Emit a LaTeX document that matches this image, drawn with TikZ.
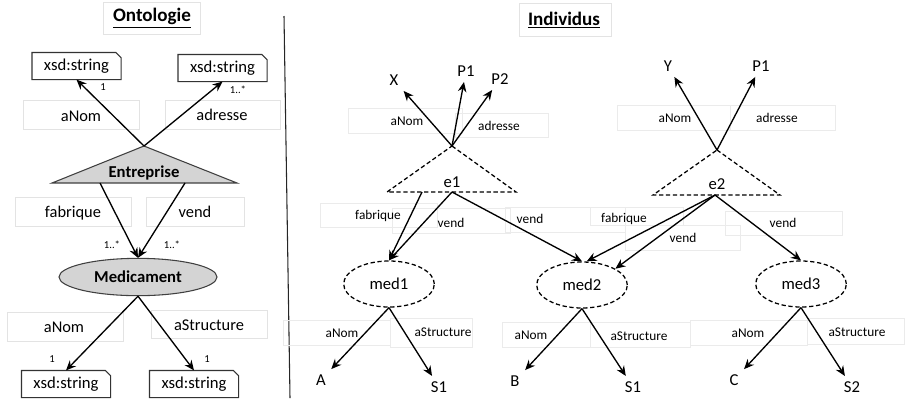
\documentclass[tikz,border=0pt]{standalone}
\usepackage{fontspec}
\setmainfont{Carlito}
\usetikzlibrary{arrows.meta,shapes.geometric}
\newcommand\xsdshape[1]{\draw[xsdline] (#1.south west) -- (#1.north west) -- ([xshift=-4pt]#1.north east) -- ([yshift=-4pt]#1.north east) -- (#1.south east) -- cycle;}
\begin{document}
\begin{tikzpicture}[x=0.75pt,y=-0.75pt,
 arr/.style={line width=1pt,-{Stealth[length=7.5pt,width=6.5pt,inset=2.5pt]}},
 lblbox/.style={draw=black!11,line width=0.6pt},
 rbox/.style={draw=black!8,line width=0.6pt},
 lbl/.style={font=\fontsize{12.3}{14}\selectfont, inner sep=1pt},
 slbl/.style={font=\fontsize{10}{12}\selectfont, inner sep=1pt},
 mult/.style={font=\fontsize{8}{9}\selectfont, inner sep=1pt},
 titletext/.style={font=\bfseries\fontsize{14.3}{16}\selectfont},
 xsd/.style={font=\fontsize{12.5}{14}\selectfont, minimum width=66.5pt, minimum height=20pt, inner sep=0pt},
 xsdline/.style={draw=black!80,line width=0.9pt},
 ind/.style={font=\fontsize{12.5}{14}\selectfont, inner sep=4pt},
 cls/.style={draw=black!75, fill=black!17, line width=0.8pt},
 inst/.style={draw, dash pattern=on 3.2pt off 2pt, line width=0.95pt},
 instell/.style={inst, ellipse, minimum width=68pt, minimum height=34.5pt, inner sep=0pt, font=\fontsize{12.5}{14}\selectfont},
]
\useasboundingbox (0,0) rectangle (905,401);

% ---------------- titles and separator
\draw[lblbox] (103,2) rectangle (200,34);
\node[titletext] (ont) at (152,18) {\underline{Ontologie}};
\draw[lblbox] (519,3) rectangle (611,36);
\node[titletext] (indiv) at (564,20) {\underline{Individus}};
\coordinate (sepT) at (284,16);
\coordinate (sepB) at (290,398);
\draw[line width=0.8pt, black!85] (sepT) -- (sepB);

% ---------------- left: label boxes
\draw[lblbox] (23,100) rectangle (139,129);
\draw[lblbox] (165,100) rectangle (280,129);
\draw[lblbox] (15,197) rectangle (131,226);
\draw[lblbox] (146,197) rectangle (244,226);
\draw[lblbox] (7,312) rectangle (123,341);
\draw[lblbox] (151,310) rectangle (267,338);
\node[lbl] (lNom1) at (81,116) {aNom};
\node[lbl] (lAdr) at (222,115) {adresse};
\node[lbl] (lFab) at (73,213) {fabrique};
\node[lbl] (lVend) at (195,212) {vend};
\node[lbl] (lNom2) at (64,327) {aNom};
\node[lbl] (lStr) at (209,325) {aStructure};

% ---------------- left: ontology
\node[xsd] (x1) at (76.5,66) {xsd:string};
\node[xsd] (x2) at (222.5,68) {xsd:string};
\node[xsd] (xb1) at (66,384) {xsd:string};
\node[xsd] (xb2) at (194,384) {xsd:string};
\xsdshape{x1}
\xsdshape{x2}
\xsdshape{xb1}
\xsdshape{xb2}

\coordinate (eA) at (144,146);
\coordinate (eL) at (52,183);
\coordinate (eR) at (237,183);
\coordinate (eBl) at (100,183);
\coordinate (eBr) at (185,183);
\filldraw[cls] (eA) -- (eR) -- (eL) -- cycle;
\node[font=\bfseries\fontsize{12.5}{14}\selectfont] (ent) at (144,173) {Entreprise};

\node[cls, ellipse, minimum width=118.5pt, minimum height=28pt, inner sep=0pt,
      font=\bfseries\fontsize{12.5}{14}\selectfont] (med) at (138,277) {Medicament};

\draw[arr] (eA) -- (x1.south);
\draw[arr] (eA) -- (x2.south);
\draw[arr] (eBl) -- (med.north);
\draw[arr] (eBr) -- (med.north);
\draw[arr] (med.south) -- (xb1.north);
\draw[arr] (med.south) -- (xb2.north);

\node[mult] (m1) at (103,87) {1};
\node[mult] (m2) at (238,90) {1..*};
\node[mult] (m3) at (112,245) {1..*};
\node[mult] (m4) at (172,245) {1..*};
\node[mult] (m5) at (52,359) {1};
\node[mult] (m6) at (207,359) {1};

% ---------------- right: label boxes
\draw[rbox] (348,108) rectangle (462,133);
\draw[rbox] (455,113) rectangle (548,137);
\draw[rbox] (617,105) rectangle (730,130);
\draw[rbox] (730,105) rectangle (835,130);
\draw[rbox] (320,203) rectangle (437,227);
\draw[rbox] (392,208) rectangle (510,233);
\draw[rbox] (505,207) rectangle (625,232);
\draw[rbox] (590,207) rectangle (683,225);
\draw[rbox] (625,225) rectangle (740,250);
\draw[rbox] (725,211) rectangle (842,235);
\draw[rbox] (283,320) rectangle (390,345);
\draw[rbox] (390,318) rectangle (472,347);
\draw[rbox] (502,322) rectangle (590,347);
\draw[rbox] (590,322) rectangle (690,347);
\draw[rbox] (690,320) rectangle (807,345);
\draw[rbox] (807,318) rectangle (904,344);

\node[slbl] (r1) at (407,121) {aNom};
\node[slbl] (r2) at (499,126) {adresse};
\node[slbl] (r3) at (675,118) {aNom};
\node[slbl] (r4) at (777,118) {adresse};
\node[slbl] (r5) at (378,216) {fabrique};
\node[slbl] (r6) at (451,223) {vend};
\node[slbl] (r7) at (530,219) {vend};
\node[slbl] (r8) at (624,219) {fabrique};
\node[slbl] (r9) at (683,238) {vend};
\node[slbl] (r10) at (783,223) {vend};
\node[slbl] (r11) at (342,333) {aNom};
\node[slbl] (r12) at (443,332) {aStructure};
\node[slbl] (r13) at (531,335) {aNom};
\node[slbl] (r14) at (639,336) {aStructure};
\node[slbl] (r15) at (748,333) {aNom};
\node[slbl] (r16) at (857,332) {aStructure};

% ---------------- right: individuals
\coordinate (e1A) at (452,146);
\coordinate (e1L) at (387,192);
\coordinate (e1R) at (516,192);
\coordinate (e1Bf) at (422,192);
\coordinate (e1Bv) at (452,192);
\draw[inst] (e1A) -- (e1R) -- (e1L) -- cycle;
\node[font=\fontsize{12.5}{14}\selectfont] (e1) at (452,182) {e1};

\coordinate (e2A) at (717,150);
\coordinate (e2L) at (653,195);
\coordinate (e2R) at (780,195);
\coordinate (e2B) at (715,195);
\draw[inst] (e2A) -- (e2R) -- (e2L) -- cycle;
\node[font=\fontsize{12.5}{14}\selectfont] (e2) at (717,184) {e2};

\node[ind] (X) at (394,80) {X};
\node[ind] (P1a) at (466,71) {P1};
\node[ind] (P2) at (500,79) {P2};
\node[ind] (Y) at (668,66) {Y};
\node[ind] (P1b) at (761,66) {P1};

\draw[arr] (e1A) -- (X);
\draw[arr] (e1A) -- (P1a);
\draw[arr] (e1A) -- (P2);
\draw[arr] (e2A) -- (Y);
\draw[arr] (e2A) -- (P1b);

\node[instell] (med1) at (389,284) {med1};
\node[instell] (med2) at (582,285) {med2};
\node[instell] (med3) at (801,284) {med3};

\draw[arr] (e1Bf) -- (med1.north);
\draw[arr] (e1Bv) -- (med1.north);
\draw[arr] (e1Bv) -- (med2.north);
\draw[arr] (e2B) -- ([xshift=3.5pt]med2.north);
\draw[arr] (e2B) -- (med2.26);
\draw[arr] (e2B) -- (med3.north);

\node[ind] (A) at (321,380) {A};
\node[ind] (S1a) at (439,387) {S1};
\node[ind] (B) at (515,381) {B};
\node[ind] (S1b) at (633,387) {S1};
\node[ind] (C) at (734,380) {C};
\node[ind] (S2) at (852,387) {S2};

\draw[arr] (med1.south) -- (A);
\draw[arr] (med1.south) -- (S1a);
\draw[arr] (med2.south) -- (B);
\draw[arr] (med2.south) -- (S1b);
\draw[arr] (med3.south) -- (C);
\draw[arr] (med3.south) -- (S2);
\end{tikzpicture}
\end{document}
